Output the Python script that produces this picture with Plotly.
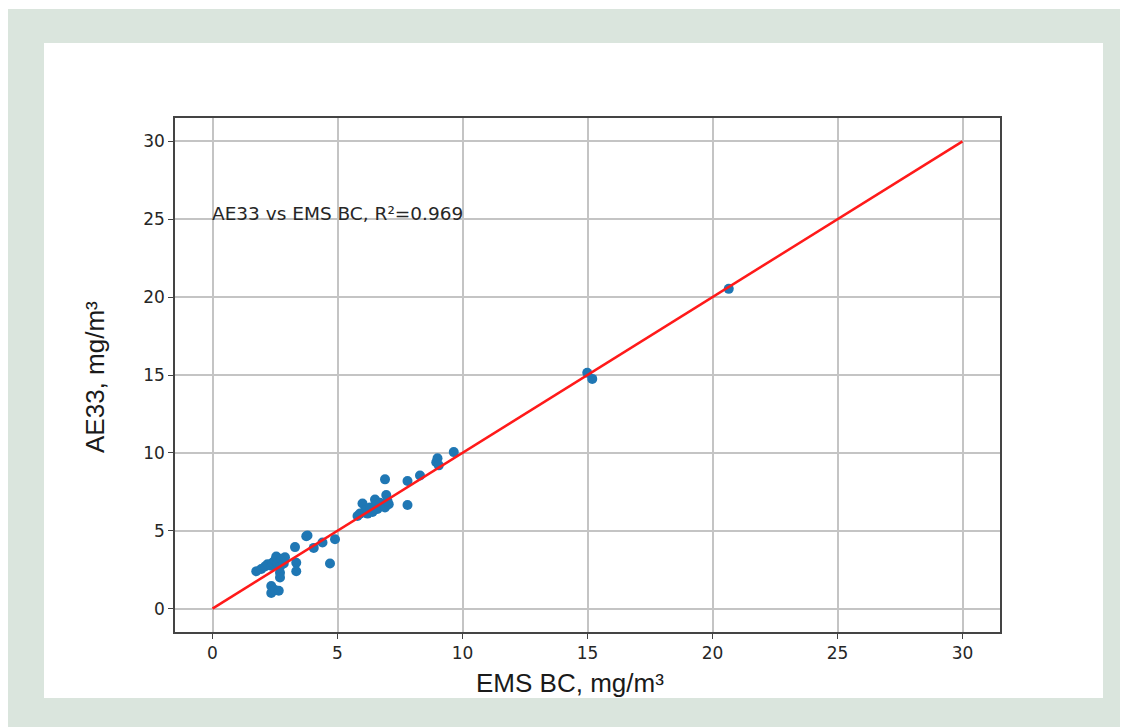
import plotly.graph_objects as go

# Data
ems_bc = [1.75, 1.95, 2.1, 2.2, 2.35, 2.4, 2.5, 2.55, 2.6, 2.7, 2.75, 2.85, 2.9, 2.7, 2.7,
          2.35, 2.35, 2.5, 2.65, 3.3, 3.35, 3.35, 3.75, 3.8, 4.05, 4.4, 4.7, 4.9,
          5.8, 5.9, 6.0, 6.1, 6.2, 6.3, 6.4, 6.5, 6.5, 6.6, 6.7, 6.9, 6.95, 6.9, 7.05, 7.0,
          7.8, 7.8, 8.3, 8.95, 9.0, 9.05, 9.65,
          14.99, 15.19, 20.65]
ae33 = [2.4, 2.55, 2.7, 2.85, 2.75, 2.95, 3.1, 3.35, 2.9, 2.7, 3.2, 2.9, 3.3, 2.3, 2.0,
        1.45, 1.0, 1.2, 1.15, 3.95, 2.95, 2.4, 4.65, 4.7, 3.9, 4.25, 2.9, 4.45,
        5.95, 6.1, 6.75, 6.3, 6.1, 6.5, 6.2, 7.0, 6.6, 6.4, 6.8, 6.5, 7.3, 8.3, 6.7, 6.9,
        8.2, 6.65, 8.55, 9.4, 9.65, 9.2, 10.05,
        15.14, 14.75, 20.53]
fit_x = [0, 30]
fit_y = [0, 30]
tick_vals = [0, 5, 10, 15, 20, 25, 30]
annotation_text = "AE33 vs EMS BC, R²=0.969"
x_title = "EMS BC, mg/m³"
y_title = "AE33, mg/m³"

# page is offset by the 8px body margin
OFF = 8
W, H = 1128 - OFF, 727 - OFF
L, R, T, B = 175 - OFF, 1000 - OFF, 118 - OFF, 632 - OFF


def px(x):
    return (x - OFF - L) / (R - L)


def py(y):
    return (B - (y - OFF)) / (B - T)


fig = go.Figure()
fig.add_trace(go.Scatter(x=ems_bc, y=ae33, mode="markers",
                         marker=dict(color="#1f77b4", size=10, line=dict(width=0)),
                         showlegend=False))
fig.add_trace(go.Scatter(x=fit_x, y=fit_y, mode="lines",
                         line=dict(color="#ff1a1a", width=2.5), showlegend=False))

fig.add_annotation(x=0, y=25.4, xref="x", yref="y", text=annotation_text,
                   showarrow=False, xanchor="left", yanchor="middle", xshift=-3,
                   font=dict(family="DejaVu Sans", size=18.5, color="#262626"))

title_font = dict(family="Liberation Sans", size=26, color="#1a1a1a")
fig.add_annotation(x=px(570), y=py(683), xref="paper", yref="paper", text=x_title,
                   showarrow=False, xanchor="center", yanchor="middle", font=title_font)
fig.add_annotation(x=px(95), y=py(377), xref="paper", yref="paper", text=y_title,
                   showarrow=False, xanchor="center", yanchor="middle", textangle=-90,
                   font=title_font)

shapes = [
    dict(type="rect", xref="paper", yref="paper", x0=px(0), x1=px(1130), y0=py(730), y1=py(9),
         fillcolor="#dae5dd", line=dict(width=0), layer="below"),
    dict(type="rect", xref="paper", yref="paper", x0=px(44), x1=px(1103), y0=py(698), y1=py(43),
         fillcolor="white", line=dict(width=0), layer="below"),
]

axis_common = dict(
    range=[-1.5, 31.5], tickvals=tick_vals, showgrid=True, gridcolor="#c4c4c4", gridwidth=1.5,
    zeroline=False, showline=True, linecolor="#444444", linewidth=1.5, mirror=True,
    ticks="outside", ticklen=5, tickcolor="#444444", tickwidth=1.3,
    tickfont=dict(family="DejaVu Sans", size=17, color="#262626"),
)

fig.update_layout(
    width=W, height=H,
    margin=dict(l=L, r=W - R, t=T, b=H - B),
    paper_bgcolor="white", plot_bgcolor="white",
    shapes=shapes,
    xaxis=dict(**axis_common),
    yaxis=dict(**axis_common),
)

fig.write_html("out.html")
